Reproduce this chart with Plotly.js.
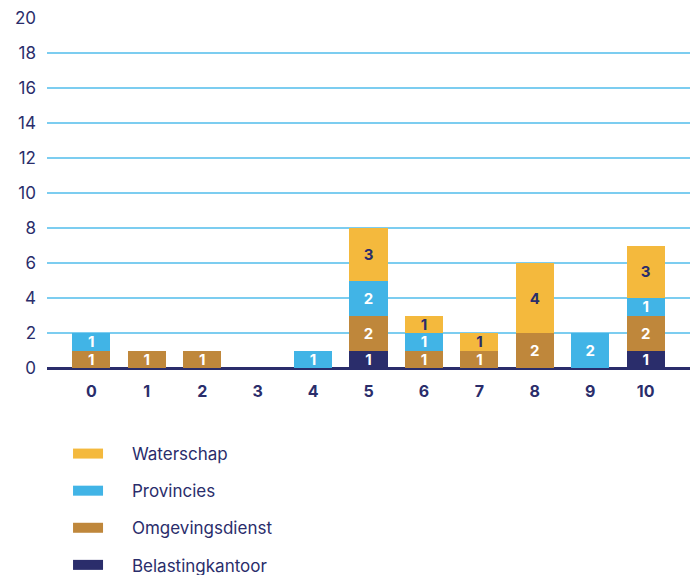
<!DOCTYPE html>
<html>
<head>
<meta charset="utf-8">
<script src="https://cdn.plot.ly/plotly-3.0.1.min.js"></script>
<style>html,body{margin:0;padding:0;background:#fff;}#chart{width:690px;height:575px;}</style>
</head>
<body>
<div id="chart"></div>
<script>
const categories = [0, 1, 2, 3, 4, 5, 6, 7, 8, 9, 10];
const belastingkantoor = [null, null, null, null, null, 1, null, null, null, null, 1];
const omgevingsdienst  = [1, 1, 1, null, null, 2, 1, 1, 2, null, 2];
const provincies       = [1, null, null, null, 1, 2, 1, null, null, 2, 1];
const waterschap       = [null, null, null, null, null, 3, 1, 1, 4, null, 3];
const yTicks = [0, 2, 4, 6, 8, 10, 12, 14, 16, 18, 20];
const seriesNames = ['Belastingkantoor', 'Omgevingsdienst', 'Provincies', 'Waterschap'];
const seriesColors = ['#2a2d6b', '#bf873b', '#41b4e6', '#f4b93d'];

const navy = '#2a2d6b';
const fontFam = 'Inter, "Open Sans", sans-serif';
const pad = '\u00a0\u00a0\u00a0\u00a0\u00a0';

function mk(i, vals, textColor) {
  return {
    type: 'bar', x: categories, y: vals, name: seriesNames[i],
    marker: {color: seriesColors[i], line: {width: 0}},
    text: vals.map(v => v == null ? '' : String(v)),
    textposition: 'inside', insidetextanchor: 'middle', textangle: 0,
    constraintext: 'none',
    textfont: {color: textColor, size: 15, family: fontFam, weight: 700},
    showlegend: false, hoverinfo: 'skip', cliponaxis: false
  };
}
function leg(i) {
  return {
    type: 'scatter', mode: 'lines', x: [null], y: [null], name: pad + seriesNames[i],
    line: {color: seriesColors[i], width: 13}, showlegend: true,
    legendgroup: 'g' + i, legendrank: 4 - i, hoverinfo: 'skip'
  };
}

const data = [
  mk(0, belastingkantoor, '#ffffff'),
  mk(1, omgevingsdienst, '#ffffff'),
  mk(2, provincies, '#ffffff'),
  mk(3, waterschap, navy),
  leg(0), leg(1), leg(2), leg(3)
];

const layout = {
  width: 690, height: 575,
  margin: {l: 47, r: 0, t: 18, b: 207, autoexpand: false},
  barmode: 'stack', bargap: 0.31,
  paper_bgcolor: '#ffffff', plot_bgcolor: '#ffffff',
  font: {family: fontFam, color: navy},
  xaxis: {
    tickmode: 'array', tickvals: categories, ticktext: categories.map(String),
    range: [-0.8, 10.8], showgrid: false, zeroline: false, showline: false,
    ticks: '', tickfont: {size: 16, color: navy, family: fontFam, weight: 700},
    ticklabelstandoff: 12, fixedrange: true
  },
  yaxis: {
    tickmode: 'array', tickvals: yTicks, ticktext: yTicks.map(String),
    range: [0, 20], showgrid: true, gridcolor: '#7ccdf0', gridwidth: 1.5,
    zeroline: true, zerolinecolor: navy, zerolinewidth: 3,
    showline: false, ticks: '', tickfont: {size: 17, color: navy, family: fontFam},
    ticklabelstandoff: 10, fixedrange: true
  },
  showlegend: true,
  legend: {
    orientation: 'v', traceorder: 'grouped', tracegroupgap: 12,
    x: 0.0986, xanchor: 'left', xref: 'container',
    y: 0.2417, yanchor: 'top', yref: 'container',
    font: {size: 17, color: navy, family: fontFam},
    itemwidth: 30, bgcolor: 'rgba(0,0,0,0)', itemclick: false, itemdoubleclick: false
  }
};

Plotly.newPlot('chart', data, layout, {displayModeBar: false, staticPlot: true});
</script>
</body>
</html>
